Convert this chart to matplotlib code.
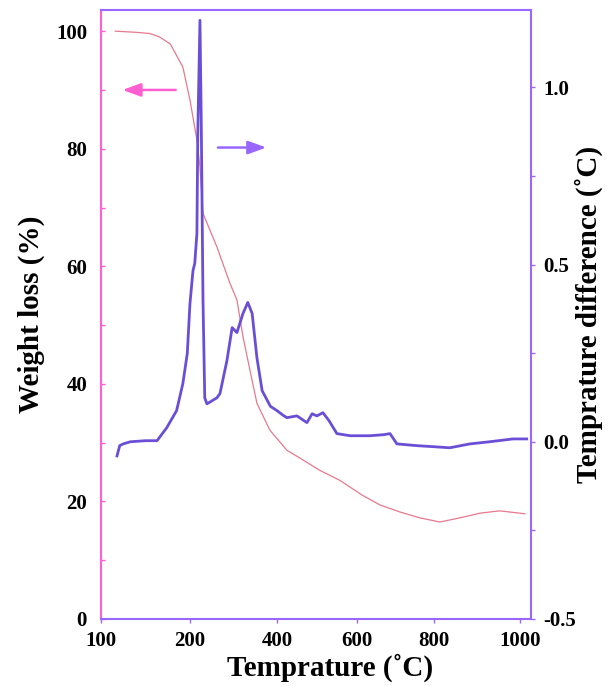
import numpy as np
import matplotlib
matplotlib.use("Agg")
import matplotlib.pyplot as plt

plt.rcParams['font.family'] = ['Liberation Serif', 'DejaVu Serif']
plt.rcParams['font.weight'] = 'bold'
plt.rcParams['axes.unicode_minus'] = False

# the temperature ticks are not evenly spaced in value, so use a piecewise scale
tick_temps = [100, 200, 400, 600, 800, 1000]
tick_labels = ['100', '200', '400', '600', '800', '1000']
tick_spots = [0, 89, 176, 256, 333, 419]   # relative spacing

# weight loss curve (left axis, %)
tg_temp = [116, 140, 155, 166, 178, 192, 200, 210, 216, 223, 230, 262, 292, 308,
           322, 338, 354, 384, 425, 457, 507, 557, 595, 613, 660, 712, 764, 814,
           860, 907, 953, 1012]
tg_weight = [100, 99.8, 99.6, 99.0, 97.8, 93.9, 88.3, 84.0, 81.5, 76.9, 69.0, 63.3,
             57.1, 54.3, 48.0, 42.3, 36.7, 32.1, 28.7, 27.4, 25.3, 23.6, 21.9, 21.1,
             19.4, 18.2, 17.2, 16.5, 17.2, 18.0, 18.4, 17.9]

# temperature difference curve (right axis, C)
dta_temp = [118, 121, 125, 133, 150, 163, 174, 185, 192, 197, 200, 207, 211, 216,
            218, 223, 226, 230, 234, 239, 250, 262, 269, 285, 297, 308, 322, 333,
            343, 354, 366, 385, 400, 415, 425, 450, 475, 488, 500, 515, 530, 550,
            583, 634, 670, 686, 704, 756, 800, 837, 884, 930, 984, 1016]
dta_diff = [-0.040, -0.011, -0.006, 0.0, 0.003, 0.003, 0.040, 0.088, 0.164, 0.249,
            0.390, 0.483, 0.503, 0.588, 0.870, 1.189, 0.900, 0.398, 0.124, 0.107,
            0.115, 0.124, 0.136, 0.229, 0.322, 0.308, 0.362, 0.393, 0.362, 0.237,
            0.144, 0.100, 0.088, 0.075, 0.068, 0.073, 0.054, 0.079, 0.073, 0.082,
            0.060, 0.023, 0.017, 0.017, 0.020, 0.023, -0.006, -0.011, -0.014, -0.017,
            -0.006, 0.0, 0.008, 0.008]

pink = '#ff5fd0'
lav = '#9966ff'
curve_purple = '#6a4fd6'
curve_red = '#e8788e'

last_slope = (tick_spots[-1] - tick_spots[-2]) / (tick_temps[-1] - tick_temps[-2])


def fwd(t):
    t = np.asarray(t, dtype=float)
    return np.interp(t, tick_temps, tick_spots) + \
        np.where(t > tick_temps[-1], (t - tick_temps[-1]) * last_slope, 0)


def inv(p):
    p = np.asarray(p, dtype=float)
    return np.interp(p, tick_spots, tick_temps) + \
        np.where(p > tick_spots[-1], (p - tick_spots[-1]) / last_slope, 0)


fig = plt.figure(figsize=(6.09, 6.86), dpi=100)
ax = fig.add_axes([101/609, 1-619/686, 430/609, 609/686])
ax2 = ax.twinx()

ax.set_xscale('function', functions=(fwd, inv))
ax.set_xlim(100, 1026)
ax.set_ylim(0, 103.6)
ax2.set_ylim(-0.5, 1.218)

ax.plot(tg_temp, tg_weight, color=curve_red, lw=0.9)
ax2.plot(dta_temp, dta_diff, color=curve_purple, lw=2.0)

ax.set_xticks(tick_temps)
ax.set_xticklabels(tick_labels)
ax.set_xticks([], minor=True)
ax.set_yticks([0, 20, 40, 60, 80, 100])
ax.set_yticks([10, 30, 50, 70, 90], minor=True)
ax2.set_yticks([-0.5, 0.0, 0.5, 1.0])
ax2.set_yticks([-0.25, 0.25, 0.75], minor=True)

ax.tick_params(axis='y', which='both', direction='in', colors=pink, labelcolor='black',
               labelsize=15, pad=10, length=3, width=1)
ax.tick_params(axis='x', which='both', direction='out', colors=lav, labelcolor='black',
               labelsize=15, pad=6, length=3, width=1)
ax2.tick_params(axis='y', which='both', direction='out', colors=lav, labelcolor='black',
                labelsize=15, pad=6, length=3, width=1)

for s in ['top', 'right']:
    ax.spines[s].set_visible(False)
ax.spines['left'].set_color(pink)
ax.spines['bottom'].set_color(lav)
ax.spines['left'].set_linewidth(1.5)
ax.spines['bottom'].set_linewidth(1.5)
ax2.spines['left'].set_visible(False)
ax2.spines['bottom'].set_visible(False)
ax2.spines['top'].set_color(lav)
ax2.spines['right'].set_color(lav)
ax2.spines['top'].set_linewidth(1.5)
ax2.spines['right'].set_linewidth(1.5)

ax.set_xlabel('Temprature (\u02daC)', fontsize=21, fontweight='bold')
ax.set_ylabel('Weight loss (%)', fontsize=21, fontweight='bold')
ax2.set_ylabel('Temprature difference (\u02daC)', fontsize=21, fontweight='bold')
ax.xaxis.set_label_coords(0.533, -0.056)
ax.yaxis.set_label_coords(-0.13, 0.5)
ax2.yaxis.set_label_coords(1.102, 0.5)

ax.annotate('', xy=(121, 90), xytext=(187, 90),
            arrowprops=dict(arrowstyle='-|>,head_length=1.1,head_width=0.4',
                            color=pink, lw=1.8))
ax2.annotate('', xy=(382, 0.83), xytext=(258, 0.83),
             arrowprops=dict(arrowstyle='-|>,head_length=1.1,head_width=0.4',
                             color=lav, lw=1.8))

fig.savefig('out.png', dpi=100)
